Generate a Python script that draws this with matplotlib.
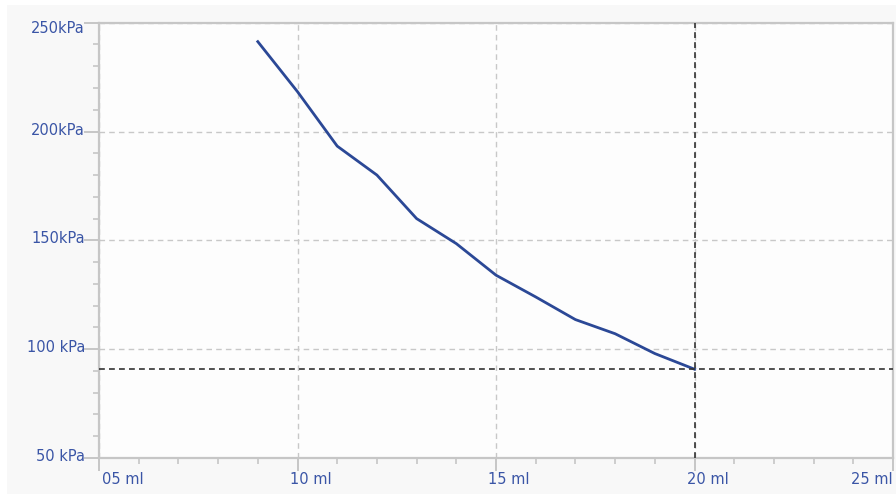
import matplotlib
matplotlib.use("Agg")
import matplotlib.pyplot as plt
from matplotlib.patches import Rectangle
from matplotlib.transforms import offset_copy

# Syringe volume (ml) and measured pressure (kPa)
volume_ml = [9, 10, 11, 12, 13, 14, 15, 16, 17, 18, 19, 20]
pressure_kpa = [241.3, 218.3, 193.3, 180.0, 160.0, 148.5, 134.0, 124.0, 113.6, 107.1, 98.0, 90.8]

# Reference cursor at the last reading
cursor_volume = 20
cursor_pressure = 90.8

x_ticks = [5, 10, 15, 20, 25]
x_labels = ["05 ml", "10 ml", "15 ml", "20 ml", "25 ml"]
y_ticks = [50, 100, 150, 200, 250]
y_labels = ["50 kPa", "100 kPa", "150kPa", "200kPa", "250kPa"]

W, H = 896, 499
fig = plt.figure(figsize=(W / 100, H / 100), dpi=100, facecolor="white")
fig.patches.append(Rectangle((7 / W, 5 / H), (W - 7) / W, (H - 10) / H,
                             transform=fig.transFigure, facecolor="#f8f8f8",
                             edgecolor="none", zorder=-10))

left, right, top, bottom = 99, 893, 22.7, 458
ax = fig.add_axes([left / W, (H - bottom) / H, (right - left) / W, (bottom - top) / H])
ax.set_facecolor("#fdfdfd")

axis_gray = "#c6c6c6"
label_blue = "#3a55a6"
line_blue = "#2b4896"

ax.set_xlim(5, 25)
ax.set_ylim(50, 250)

for s in ax.spines.values():
    s.set_color(axis_gray)
    s.set_linewidth(1.6)

ax.set_xticks(x_ticks)
ax.set_xticklabels(x_labels)
ax.set_xticks(range(5, 26), minor=True)
ax.set_yticks(y_ticks)
ax.set_yticklabels(y_labels)
ax.set_yticks(range(50, 251, 10), minor=True)

ax.tick_params(axis="both", which="major", color=axis_gray, width=1.4,
               labelcolor=label_blue, labelsize=10.5)
ax.tick_params(axis="y", which="major", length=11, pad=-1)
ax.tick_params(axis="y", which="minor", length=4, width=1.2, color=axis_gray)
ax.tick_params(axis="x", which="major", length=9, pad=1)
ax.tick_params(axis="x", which="minor", length=4, width=1.2, color=axis_gray)

# x labels: first left-aligned, last right-aligned, middle ones nudged left
xl = ax.get_xticklabels()
for i, lab in enumerate(xl):
    if i == 0:
        lab.set_horizontalalignment("left")
        lab.set_transform(offset_copy(lab.get_transform(), fig=fig, x=3, y=0, units="dots"))
    elif i == len(xl) - 1:
        lab.set_horizontalalignment("right")
    else:
        lab.set_horizontalalignment("left")
        lab.set_transform(offset_copy(lab.get_transform(), fig=fig, x=-8, y=0, units="dots"))

# y labels sit slightly above their ticks; the top one is kept inside the frame
yl = ax.get_yticklabels()
for i, lab in enumerate(yl):
    dy = -4 if i == len(yl) - 1 else 3
    lab.set_transform(offset_copy(lab.get_transform(), fig=fig, x=0, y=dy, units="dots"))

ax.grid(True, which="major", color="#c8c8c8", linestyle=(0, (4, 3)), linewidth=1.0)
ax.set_axisbelow(True)

ax.plot(volume_ml, pressure_kpa, color=line_blue, linewidth=2.0, zorder=3,
        solid_joinstyle="round")

ax.axhline(cursor_pressure, color="#333333", linestyle=(0, (3.5, 2.5)), linewidth=1.2, zorder=4)
ax.axvline(cursor_volume, color="#333333", linestyle=(0, (3.5, 2.5)), linewidth=1.2, zorder=4)

fig.savefig("out.png", dpi=100, facecolor=fig.get_facecolor())
